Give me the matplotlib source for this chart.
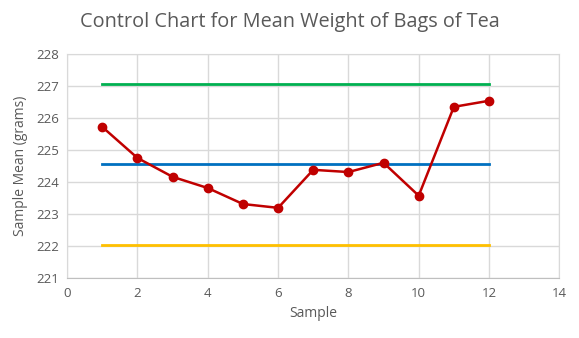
import numpy as np
import matplotlib
matplotlib.use("Agg")
import matplotlib.pyplot as plt

# data
samples = [1, 2, 3, 4, 5, 6, 7, 8, 9, 10, 11, 12]
means = [225.73, 224.76, 224.17, 223.82, 223.32, 223.20,
         224.39, 224.32, 224.61, 223.58, 226.36, 226.55]
ucl = 227.07
center = 224.56
lcl = 222.03

plt.rcParams['font.family'] = ['Open Sans', 'DejaVu Sans']
grey = '#595959'

fig = plt.figure(figsize=(5.79, 3.38), dpi=100)
ax = fig.add_axes([0.116, 0.177, 0.85, 0.662])

n = len(samples)
ax.plot(samples, [ucl] * n, color='#00B050', lw=2, zorder=3)
ax.plot(samples, [center] * n, color='#0070C0', lw=2, zorder=3)
ax.plot(samples, [lcl] * n, color='#FFC000', lw=2, zorder=3)
ax.plot(samples, means, color='#C00000', lw=1.8, marker='o', markersize=6, zorder=4)

ax.set_xlim(0, 14)
ax.set_ylim(221, 228)
ax.set_xticks(np.arange(0, 15, 2))
ax.set_yticks(np.arange(221, 229, 1))
ax.grid(True, color='#d9d9d9', lw=1)
ax.set_axisbelow(True)
for s in ax.spines.values():
    s.set_color('#d9d9d9')
ax.spines['bottom'].set_color('#bfbfbf')
ax.tick_params(length=0, labelsize=9.5, colors=grey, pad=6)

ax.set_xlabel('Sample', fontsize=10, color=grey, labelpad=5)
ax.set_ylabel('Sample Mean (grams)', fontsize=10, color=grey, labelpad=6)
fig.suptitle('Control Chart for Mean Weight of Bags of Tea', fontsize=14.3, color=grey, y=0.965)

fig.savefig('out.png', dpi=100)
